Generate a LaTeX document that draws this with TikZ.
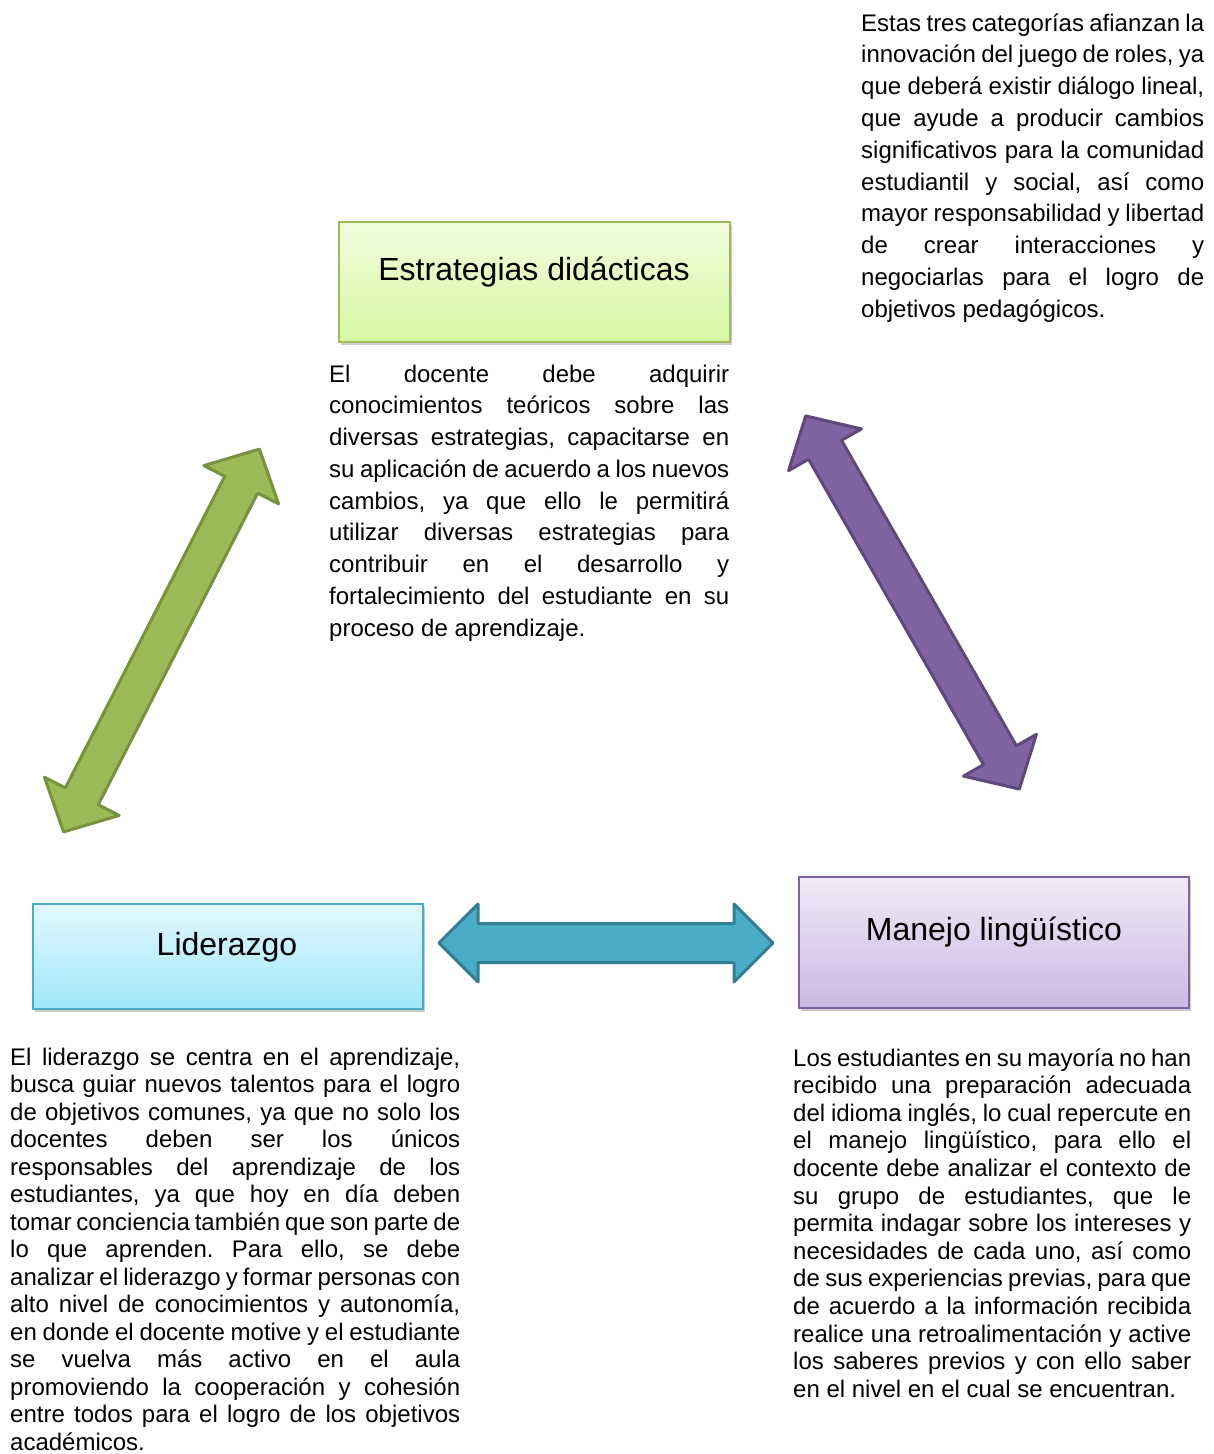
\documentclass[tikz,border=0pt]{standalone}
\usepackage{fontspec}
\setmainfont{Liberation Sans}
\usetikzlibrary{shadows}
\definecolor{gfill}{HTML}{9BBB59}\definecolor{gline}{HTML}{76923C}
\definecolor{pfill}{HTML}{8064A2}\definecolor{pline}{HTML}{5F497A}
\definecolor{bfill}{HTML}{4BACC6}\definecolor{bline}{HTML}{357E92}
\newcommand{\jl}[1]{\makebox[\linewidth][s]{#1}\\}
\newcommand{\dblarrowshape}[4]{% half length, head length, head half width, shaft half width
  (-#1,0) -- (-#1+#2,#3) -- (-#1+#2,#4) -- (#1-#2,#4) -- (#1-#2,#3) -- (#1,0)
  -- (#1-#2,-#3) -- (#1-#2,-#4) -- (-#1+#2,-#4) -- (-#1+#2,-#3) -- cycle}
\tikzset{
  box/.style={draw, line width=2pt, rectangle, inner sep=0pt, anchor=north west,
    drop shadow={shadow xshift=2pt, shadow yshift=-3pt, opacity=0.35, fill=black!60}},
  title/.style={font=\fontsize{32}{38}\selectfont, inner sep=0pt, anchor=base},
  para/.style={inner sep=0pt, anchor=base west, align=left},
  arr/.style={line width=3pt, line join=round}
}
\begin{document}
\frenchspacing
\begin{tikzpicture}[x=1pt,y=-1pt]
\useasboundingbox (0,0) rectangle (1214,1454);
% boxes
\node[box, draw=gfill, top color={rgb,255:red,242;green,253;blue,222}, bottom color={rgb,255:red,214;green,247;blue,163},
  minimum width=391pt, minimum height=120pt] (estr) at (338,221) {};
\node[title] (estrt) at (534,280) {Estrategias didácticas};
\node[box, draw=bfill, top color={rgb,255:red,226;green,248;blue,254}, bottom color={rgb,255:red,160;green,231;blue,251},
  minimum width=390pt, minimum height=105pt] (lid) at (32,903) {};
\node[title] (lidt) at (227,955) {Liderazgo};
\node[box, draw=pfill, top color={rgb,255:red,240;green,234;blue,248}, bottom color={rgb,255:red,202;green,185;blue,228},
  minimum width=390pt, minimum height=131pt] (man) at (798,876) {};
\node[title] (mant) at (994,940) {Manejo lingüístico};
% arrows
\coordinate (ga) at (161.5,640.5);
\coordinate (pa) at (912.5,602.5);
\coordinate (ha) at (606,943);
\begin{scope}[shift={(ga)}, rotate=62.9]
  \draw[arr, fill=gfill, draw=gline] \dblarrowshape{215}{40}{42}{18.5};
\end{scope}
\begin{scope}[shift={(pa)}, rotate=-60.2]
  \draw[arr, fill=pfill, draw=pline] \dblarrowshape{215}{39}{42}{19};
\end{scope}
\begin{scope}[shift={(ha)}]
  \draw[arr, fill=bfill, draw=bline] \dblarrowshape{167}{39}{39}{19.5};
\end{scope}
% paragraphs
\node[para] (ptr) at (861,31) {\parbox[t]{343pt}{\fontsize{24}{31.8}\selectfont
\jl{Estas tres categorías afianzan la}
\jl{innovación del juego de roles, ya}
\jl{que deberá existir diálogo lineal,}
\jl{que ayude a producir cambios}
\jl{significativos para la comunidad}
\jl{estudiantil y social, así como}
\jl{mayor responsabilidad y libertad}
\jl{de crear interacciones y}
\jl{negociarlas para el logro de}
objetivos pedagógicos.}};
\node[para] (pmid) at (329,382) {\parbox[t]{400pt}{\fontsize{24}{31.75}\selectfont
\jl{El docente debe adquirir}
\jl{conocimientos teóricos sobre las}
\jl{diversas estrategias, capacitarse en}
\jl{su aplicación de acuerdo a los nuevos}
\jl{cambios, ya que ello le permitirá}
\jl{utilizar diversas estrategias para}
\jl{contribuir en el desarrollo y}
\jl{fortalecimiento del estudiante en su}
proceso de aprendizaje.}};
\node[para] (plid) at (10,1065) {\parbox[t]{450pt}{\fontsize{24}{27.5}\selectfont
\jl{El liderazgo se centra en el aprendizaje,}
\jl{busca guiar nuevos talentos para el logro}
\jl{de objetivos comunes, ya que no solo los}
\jl{docentes deben ser los únicos}
\jl{responsables del aprendizaje de los}
\jl{estudiantes, ya que hoy en día deben}
\jl{tomar conciencia también que son parte de}
\jl{lo que aprenden. Para ello, se debe}
\jl{analizar el liderazgo y formar personas con}
\jl{alto nivel de conocimientos y autonomía,}
\jl{en donde el docente motive y el estudiante}
\jl{se vuelva más activo en el aula}
\jl{promoviendo la cooperación y cohesión}
\jl{entre todos para el logro de los objetivos}
académicos.}};
\node[para] (pman) at (793,1066) {\parbox[t]{398pt}{\fontsize{24}{27.6}\selectfont
\jl{Los estudiantes en su mayoría no han}
\jl{recibido una preparación adecuada}
\jl{del idioma inglés, lo cual repercute en}
\jl{el manejo lingüístico, para ello el}
\jl{docente debe analizar el contexto de}
\jl{su grupo de estudiantes, que le}
\jl{permita indagar sobre los intereses y}
\jl{necesidades de cada uno, así como}
\jl{de sus experiencias previas, para que}
\jl{de acuerdo a la información recibida}
\jl{realice una retroalimentación y active}
\jl{los saberes previos y con ello saber}
en el nivel en el cual se encuentran.}};
\end{tikzpicture}
\end{document}
